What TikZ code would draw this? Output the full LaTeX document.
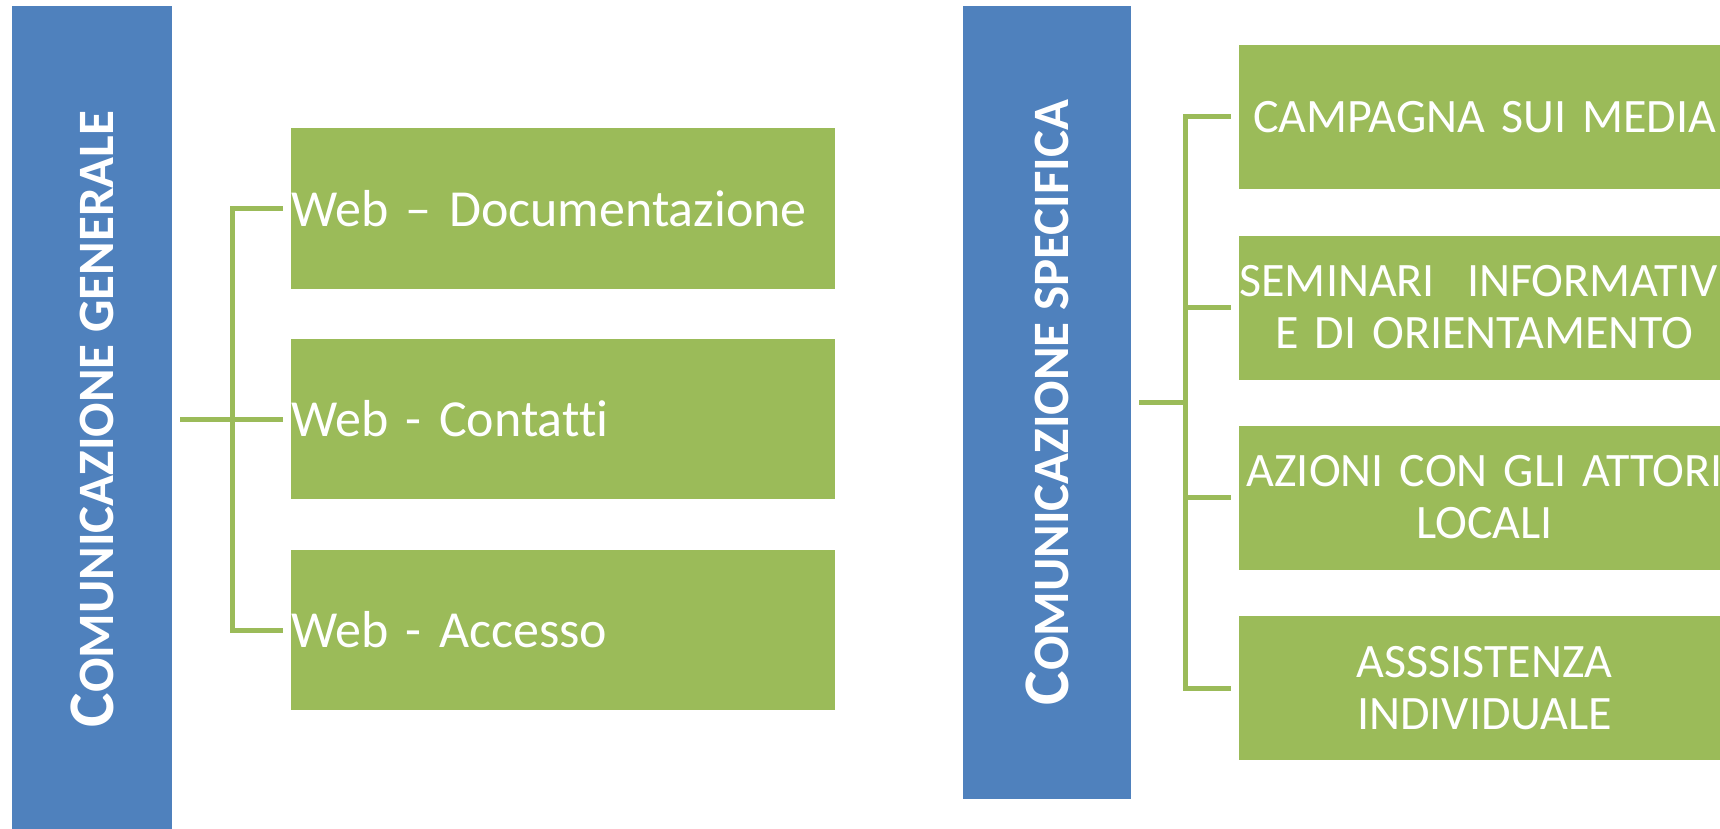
\documentclass[tikz,border=0pt]{standalone}
\usepackage{fontspec}
\setmainfont{Carlito}[Ligatures={TeX,NoCommon}]
\usepackage{xcolor}
\usepackage{tikz}
\usetikzlibrary{calc}

\definecolor{barblue}{HTML}{4F81BD}
\definecolor{leafgreen}{HTML}{9BBB59}
\newcommand{\smcap}[2]{{\fontsize{65}{65}\selectfont #1}{\fontsize{51}{51}\selectfont #2}}

\begin{document}
\begin{tikzpicture}[x=1pt,y=-1pt,
    bar/.style={fill=barblue, minimum width=160pt, inner sep=0pt},
    bartitle/.style={rotate=90, text=white, font=\bfseries, inner sep=0pt},
    webleaf/.style={fill=leafgreen, text=white, inner sep=0pt, minimum width=544pt, minimum height=160pt,
        text width=544pt, align=left, font=\fontsize{52}{58}\selectfont},
    actleaf/.style={fill=leafgreen, text=white, inner sep=0pt, minimum width=491pt, minimum height=144pt,
        text width=491pt, align=center, font=\fontsize{48}{52}\selectfont},
    conn/.style={draw=leafgreen, line width=5pt}]
    \useasboundingbox (0,0) rectangle (1720,829);
    \clip (0,0) rectangle (1720,829);
    % comunicazione generale
    \node[bar, minimum height=826pt] (gen) at (92,419) {};
    \node[bartitle] (gentitle) at (gen.center) {\smcap{C}{OMUNICAZIONE GENERALE}};
    \foreach \y/\n/\t in {208.5/1/{Web -- Documentazione},419/2/{Web - Contatti},630/3/{Web - Accesso}}
        \node[webleaf] (web\n) at (563,\y) {\t};
    \foreach \n in {1,2,3}
        \draw[conn] ([xshift=8pt]gen.east) -- ++(52,0) |- ([xshift=-8pt]web\n.west);
    % comunicazione specifica
    \node[bar, minimum width=168pt, minimum height=793pt] (spec) at (1047,402.5) {};
    \node[bartitle] (spectitle) at (spec.center) {\smcap{C}{OMUNICAZIONE SPECIFICA}};
    \foreach \y/\n/\t in {117/1/{CAMPAGNA SUI MEDIA},307.5/2/{SEMINARI\ \ INFORMATIVI\\E DI ORIENTAMENTO},
                          497.5/3/{AZIONI CON GLI ATTORI\\LOCALI},688/4/{ASSSISTENZA\\INDIVIDUALE}}
        \node[actleaf] (act\n) at (1484.5,\y) {\t};
    \foreach \n in {1,2,3,4}
        \draw[conn] ([xshift=8pt]spec.east) -- ++(46,0) |- ([xshift=-8pt]act\n.west);
%    \draw[red] (0,0) rectangle (1720,829);
\end{tikzpicture}
\end{document}
